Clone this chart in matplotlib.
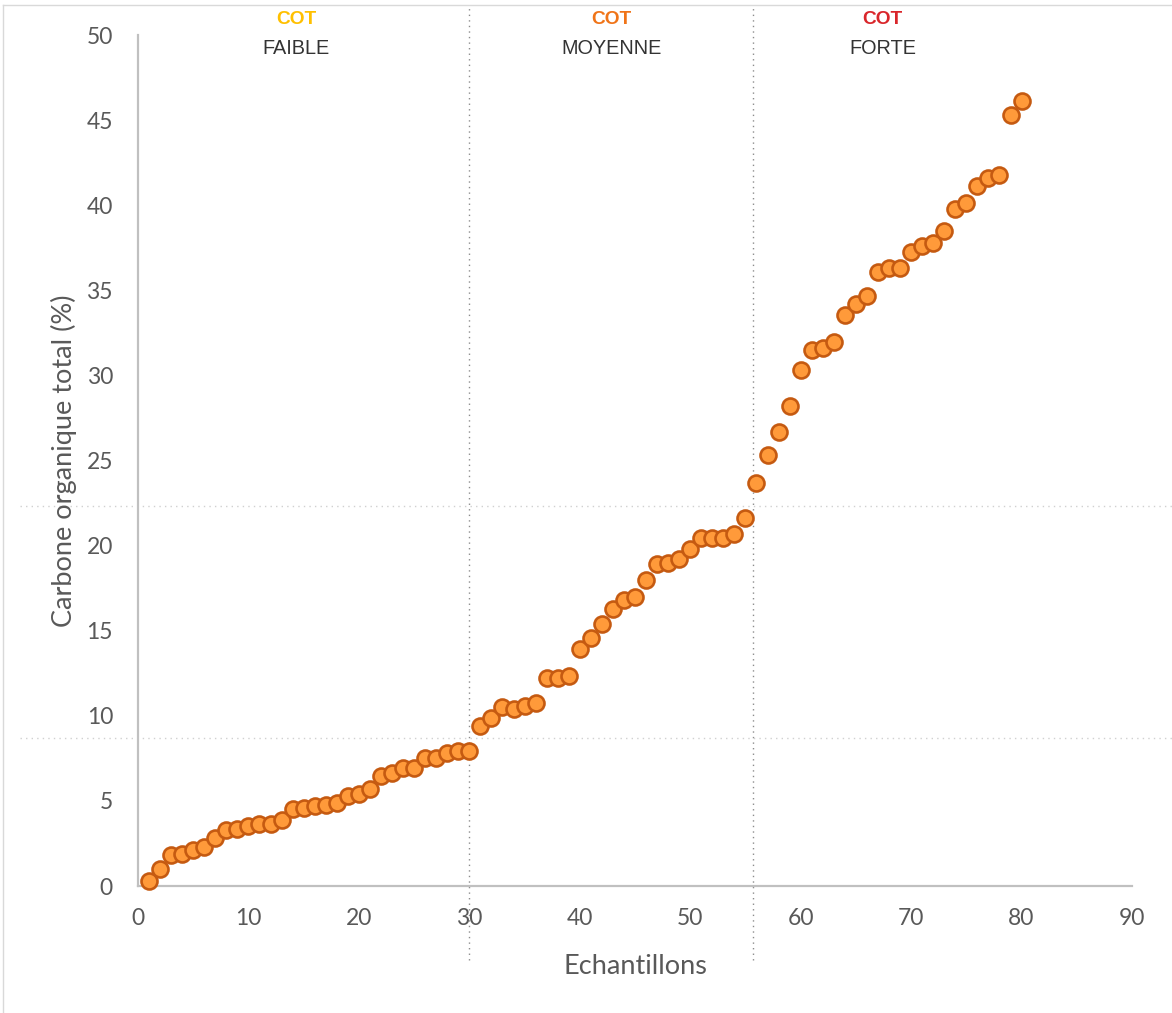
import matplotlib
matplotlib.use("Agg")
import matplotlib.pyplot as plt
from matplotlib.lines import Line2D

# ---- data ----
samples = list(range(1, 81))
cot = [0.3, 1.0, 1.8, 1.9, 2.1, 2.3, 2.8, 3.3, 3.35, 3.5,
       3.65, 3.65, 3.9, 4.5, 4.6, 4.7, 4.75, 4.9, 5.3, 5.4,
       5.7, 6.45, 6.65, 6.95, 6.95, 7.5, 7.5, 7.8, 7.95, 7.95,
       9.4, 9.9, 10.5, 10.4, 10.6, 10.75, 12.2, 12.2, 12.35, 13.95,
       14.6, 15.4, 16.3, 16.8, 17.0, 17.95, 18.9, 19.0, 19.2, 19.8,
       20.45, 20.45, 20.45, 20.7, 21.6, 23.7, 25.3, 26.65, 28.2, 30.3,
       31.5, 31.6, 31.95, 33.55, 34.2, 34.65, 36.05, 36.3, 36.3, 37.25,
       37.6, 37.8, 38.5, 39.8, 40.1, 41.1, 41.6, 41.8, 45.3, 46.1]
x_ticks = [0, 10, 20, 30, 40, 50, 60, 70, 80, 90]
y_ticks = [0, 5, 10, 15, 20, 25, 30, 35, 40, 45, 50]
split_x = [30, 55.7]
split_y = [8.7, 22.3]
class_names = ["FAIBLE", "MOYENNE", "FORTE"]
class_centers = [14.3, 42.9, 67.4]
class_colors = ["#FFC000", "#F07418", "#D9262B"]

W, H = 1172, 1013
fig = plt.figure(figsize=(W / 100, H / 100), dpi=100)
fig.patch.set_facecolor("white")

L, R, T, B = 138, 1132, 35, 886
ax = fig.add_axes([L / W, (H - B) / H, (R - L) / W, (B - T) / H])
ax.set_xlim(0, 90)
ax.set_ylim(0, 50)

for s in ["top", "right"]:
    ax.spines[s].set_visible(False)
for s in ["left", "bottom"]:
    ax.spines[s].set_color("#C0C0C0")
    ax.spines[s].set_linewidth(1.6)

ax.set_xticks(x_ticks)
ax.set_yticks(y_ticks)
ax.tick_params(length=0, labelsize=16.5, labelcolor="#595959")
ax.tick_params(axis="x", pad=16)
ax.tick_params(axis="y", pad=18)
for lab in ax.get_xticklabels() + ax.get_yticklabels():
    lab.set_fontfamily(["Lato", "DejaVu Sans"])

ax.set_xlabel("Echantillons", fontsize=19.5, color="#595959",
              fontfamily=["Lato", "DejaVu Sans"], labelpad=18)
ax.set_ylabel("Carbone organique total (%)", fontsize=19.5, color="#595959",
              fontfamily=["Lato", "DejaVu Sans"], labelpad=7)

# threshold lines
y_lo = (B - 960) / (B - T)
y_hi = (B - 5) / (B - T)
for xv in split_x:
    ax.axvline(xv, ymin=y_lo, ymax=y_hi, color="#8C8C8C", lw=1.0,
               linestyle=(0, (1, 3)), clip_on=False, zorder=1)
x_lo = (20 - L) / (R - L)
x_hi = (W - L) / (R - L)
for yv in split_y:
    ax.axhline(yv, xmin=x_lo, xmax=x_hi, color="#D0D0D0", lw=1.0,
               linestyle=(0, (1, 3)), clip_on=False, zorder=1)

# scatter points
ax.plot(samples, cot, linestyle="none", marker="o", markersize=11.5,
        markerfacecolor="#FF9A3A", markeredgecolor="#C55A11",
        markeredgewidth=1.9, clip_on=False, zorder=3)

# class labels at top
for name, xc, col in zip(class_names, class_centers, class_colors):
    ax.text(xc, (B - 20) / (B - T), "COT", transform=ax.get_xaxis_transform(),
            ha="center", va="center", fontsize=13.8, fontweight="bold",
            color=col, fontfamily=["Liberation Sans", "DejaVu Sans"])
    ax.text(xc, (B - 48) / (B - T), name, transform=ax.get_xaxis_transform(),
            ha="center", va="center", fontsize=14.3, color="#333333",
            fontfamily=["Liberation Sans", "DejaVu Sans"])

# outer frame lines (chart area border)
fig.add_artist(Line2D([3 / W, 3 / W], [0, 1 - 5 / H], transform=fig.transFigure,
                      color="#D9D9D9", lw=1.0))
fig.add_artist(Line2D([3 / W, 1], [1 - 5 / H, 1 - 5 / H], transform=fig.transFigure,
                      color="#D9D9D9", lw=1.0))

fig.savefig("out.png", dpi=100, facecolor="white")
